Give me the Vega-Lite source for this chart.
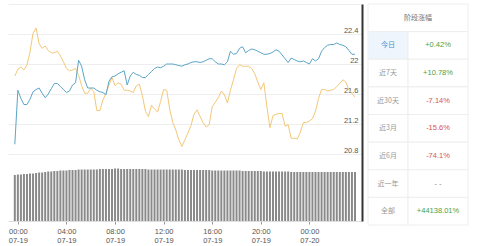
{
  "$schema": "https://vega.github.io/schema/vega-lite/v6.json",
  "padding": {"left": 8, "top": 3, "right": 0, "bottom": 0},
  "background": "white",
  "config": {"view": {"stroke": null}, "font": "Liberation Sans"},
  "spacing": 5,
  "hconcat": [
    {
      "width": 354,
      "height": 217,
      "data": {"values": [
        {"t":"2024-07-18T23:45","b":20.93,"o":21.84,"v":46},
        {"t":"2024-07-19T00:00","b":21.65,"o":21.93,"v":46.5},
        {"t":"2024-07-19T00:15","b":21.54,"o":21.96,"v":46.5},
        {"t":"2024-07-19T00:30","b":21.46,"o":21.92,"v":47},
        {"t":"2024-07-19T00:45","b":21.46,"o":21.99,"v":47},
        {"t":"2024-07-19T01:00","b":21.53,"o":22.16,"v":47.5},
        {"t":"2024-07-19T01:15","b":21.63,"o":22.41,"v":47.5},
        {"t":"2024-07-19T01:30","b":21.66,"o":22.48,"v":48},
        {"t":"2024-07-19T01:45","b":21.68,"o":22.27,"v":48.5},
        {"t":"2024-07-19T02:00","b":21.61,"o":22.21,"v":48.5},
        {"t":"2024-07-19T02:15","b":21.55,"o":22.24,"v":49},
        {"t":"2024-07-19T02:30","b":21.60,"o":22.18,"v":49.5},
        {"t":"2024-07-19T02:45","b":21.67,"o":22.15,"v":49.5},
        {"t":"2024-07-19T03:00","b":21.74,"o":22.15,"v":50},
        {"t":"2024-07-19T03:15","b":21.74,"o":22.17,"v":50},
        {"t":"2024-07-19T03:30","b":21.70,"o":22.11,"v":50.5},
        {"t":"2024-07-19T03:45","b":21.66,"o":22.03,"v":50.5},
        {"t":"2024-07-19T04:00","b":21.62,"o":21.94,"v":50.5},
        {"t":"2024-07-19T04:15","b":21.64,"o":21.91,"v":51},
        {"t":"2024-07-19T04:30","b":21.72,"o":21.92,"v":51},
        {"t":"2024-07-19T04:45","b":21.75,"o":21.94,"v":51},
        {"t":"2024-07-19T05:00","b":22.05,"o":21.85,"v":51.5},
        {"t":"2024-07-19T05:15","b":21.97,"o":21.71,"v":51.5},
        {"t":"2024-07-19T05:30","b":21.79,"o":21.61,"v":51.5},
        {"t":"2024-07-19T05:45","b":21.68,"o":21.61,"v":51.5},
        {"t":"2024-07-19T06:00","b":21.68,"o":21.68,"v":51.5},
        {"t":"2024-07-19T06:15","b":21.68,"o":21.63,"v":51.5},
        {"t":"2024-07-19T06:30","b":21.65,"o":21.38,"v":51.5},
        {"t":"2024-07-19T06:45","b":21.63,"o":21.38,"v":52},
        {"t":"2024-07-19T07:00","b":21.62,"o":21.52,"v":52},
        {"t":"2024-07-19T07:15","b":21.59,"o":21.61,"v":52},
        {"t":"2024-07-19T07:30","b":21.77,"o":21.72,"v":52},
        {"t":"2024-07-19T07:45","b":21.83,"o":21.82,"v":52},
        {"t":"2024-07-19T08:00","b":21.84,"o":21.71,"v":52.5},
        {"t":"2024-07-19T08:15","b":21.87,"o":21.75,"v":52.5},
        {"t":"2024-07-19T08:30","b":21.89,"o":21.73,"v":52},
        {"t":"2024-07-19T08:45","b":21.91,"o":21.65,"v":52},
        {"t":"2024-07-19T09:00","b":21.72,"o":21.65,"v":52},
        {"t":"2024-07-19T09:15","b":21.84,"o":21.64,"v":52},
        {"t":"2024-07-19T09:30","b":21.89,"o":21.62,"v":52},
        {"t":"2024-07-19T09:45","b":21.86,"o":21.71,"v":52},
        {"t":"2024-07-19T10:00","b":21.85,"o":21.73,"v":52},
        {"t":"2024-07-19T10:15","b":21.82,"o":21.58,"v":52},
        {"t":"2024-07-19T10:30","b":21.82,"o":21.37,"v":52},
        {"t":"2024-07-19T10:45","b":21.86,"o":21.30,"v":51.5},
        {"t":"2024-07-19T11:00","b":21.90,"o":21.45,"v":51.5},
        {"t":"2024-07-19T11:15","b":21.94,"o":21.40,"v":51.5},
        {"t":"2024-07-19T11:30","b":21.96,"o":21.36,"v":51.5},
        {"t":"2024-07-19T11:45","b":21.95,"o":21.50,"v":51.5},
        {"t":"2024-07-19T12:00","b":21.97,"o":21.66,"v":51.5},
        {"t":"2024-07-19T12:15","b":22.00,"o":21.65,"v":51.5},
        {"t":"2024-07-19T12:30","b":22.00,"o":21.40,"v":51.5},
        {"t":"2024-07-19T12:45","b":22.00,"o":21.22,"v":51.5},
        {"t":"2024-07-19T13:00","b":21.99,"o":21.12,"v":51.5},
        {"t":"2024-07-19T13:15","b":21.98,"o":20.99,"v":51.5},
        {"t":"2024-07-19T13:30","b":21.97,"o":20.90,"v":51.5},
        {"t":"2024-07-19T13:45","b":21.99,"o":20.99,"v":51},
        {"t":"2024-07-19T14:00","b":22.00,"o":21.08,"v":51},
        {"t":"2024-07-19T14:15","b":22.02,"o":21.18,"v":51},
        {"t":"2024-07-19T14:30","b":22.03,"o":21.33,"v":51},
        {"t":"2024-07-19T14:45","b":22.03,"o":21.39,"v":51},
        {"t":"2024-07-19T15:00","b":22.02,"o":21.30,"v":51},
        {"t":"2024-07-19T15:15","b":22.03,"o":21.22,"v":51},
        {"t":"2024-07-19T15:30","b":22.05,"o":21.16,"v":51},
        {"t":"2024-07-19T15:45","b":22.07,"o":21.19,"v":51},
        {"t":"2024-07-19T16:00","b":22.07,"o":21.43,"v":50.5},
        {"t":"2024-07-19T16:15","b":22.03,"o":21.49,"v":50.5},
        {"t":"2024-07-19T16:30","b":22.00,"o":21.55,"v":50.5},
        {"t":"2024-07-19T16:45","b":22.00,"o":21.64,"v":50.5},
        {"t":"2024-07-19T17:00","b":21.99,"o":21.59,"v":50.5},
        {"t":"2024-07-19T17:15","b":22.03,"o":21.48,"v":50.5},
        {"t":"2024-07-19T17:30","b":22.17,"o":21.65,"v":50.5},
        {"t":"2024-07-19T17:45","b":22.13,"o":21.79,"v":50.5},
        {"t":"2024-07-19T18:00","b":22.14,"o":21.94,"v":50.5},
        {"t":"2024-07-19T18:15","b":22.21,"o":21.99,"v":50.5},
        {"t":"2024-07-19T18:30","b":22.23,"o":21.97,"v":50},
        {"t":"2024-07-19T18:45","b":22.15,"o":21.97,"v":50},
        {"t":"2024-07-19T19:00","b":22.18,"o":21.97,"v":50},
        {"t":"2024-07-19T19:15","b":22.20,"o":21.94,"v":50},
        {"t":"2024-07-19T19:30","b":22.19,"o":21.87,"v":50},
        {"t":"2024-07-19T19:45","b":22.17,"o":21.76,"v":50},
        {"t":"2024-07-19T20:00","b":22.15,"o":21.66,"v":50},
        {"t":"2024-07-19T20:15","b":22.13,"o":21.75,"v":49.5},
        {"t":"2024-07-19T20:30","b":22.13,"o":21.43,"v":49.5},
        {"t":"2024-07-19T20:45","b":22.14,"o":21.15,"v":49.5},
        {"t":"2024-07-19T21:00","b":22.16,"o":21.31,"v":49.5},
        {"t":"2024-07-19T21:15","b":22.19,"o":21.33,"v":49.5},
        {"t":"2024-07-19T21:30","b":22.17,"o":21.34,"v":49.5},
        {"t":"2024-07-19T21:45","b":22.12,"o":21.34,"v":49.5},
        {"t":"2024-07-19T22:00","b":22.07,"o":21.17,"v":49.5},
        {"t":"2024-07-19T22:15","b":22.02,"o":21.19,"v":49.5},
        {"t":"2024-07-19T22:30","b":22.08,"o":21.01,"v":49},
        {"t":"2024-07-19T22:45","b":22.06,"o":21.01,"v":49},
        {"t":"2024-07-19T23:00","b":22.04,"o":21.00,"v":49},
        {"t":"2024-07-19T23:15","b":22.03,"o":21.09,"v":49},
        {"t":"2024-07-19T23:30","b":22.04,"o":21.22,"v":49},
        {"t":"2024-07-19T23:45","b":22.02,"o":21.22,"v":49},
        {"t":"2024-07-20T00:00","b":22.00,"o":21.24,"v":49},
        {"t":"2024-07-20T00:15","b":22.07,"o":21.27,"v":49},
        {"t":"2024-07-20T00:30","b":22.04,"o":21.37,"v":49},
        {"t":"2024-07-20T00:45","b":22.07,"o":21.54,"v":49},
        {"t":"2024-07-20T01:00","b":22.17,"o":21.66,"v":49},
        {"t":"2024-07-20T01:15","b":22.22,"o":21.66,"v":49},
        {"t":"2024-07-20T01:30","b":22.25,"o":21.64,"v":49},
        {"t":"2024-07-20T01:45","b":22.26,"o":21.65,"v":49},
        {"t":"2024-07-20T02:00","b":22.26,"o":21.66,"v":49},
        {"t":"2024-07-20T02:15","b":22.28,"o":21.70,"v":49},
        {"t":"2024-07-20T02:30","b":22.26,"o":21.74,"v":49},
        {"t":"2024-07-20T02:45","b":22.25,"o":21.79,"v":49},
        {"t":"2024-07-20T03:00","b":22.23,"o":21.76,"v":49},
        {"t":"2024-07-20T03:15","b":22.18,"o":21.65,"v":49},
        {"t":"2024-07-20T03:30","b":22.13,"o":21.61,"v":49},
        {"t":"2024-07-20T03:45","b":22.13,"o":21.56,"v":49}
      ]},
      "resolve": {"scale": {"y": "independent"}},
      "layer": [
        {
          "mark": {"type": "bar", "color": "#8a8a8a", "size": 2},
          "encoding": {
            "x": {
              "field": "t", "type": "temporal",
              "scale": {"domain": [
                {"year": 2024, "month": 7, "date": 18, "hours": 23, "minutes": 36},
                {"year": 2024, "month": 7, "date": 20, "hours": 3, "minutes": 55}
              ]},
              "axis": {
                "title": null,
                "grid": false,
                "values": [
                  {"year": 2024, "month": 7, "date": 19, "hours": 0},
                  {"year": 2024, "month": 7, "date": 19, "hours": 4},
                  {"year": 2024, "month": 7, "date": 19, "hours": 8},
                  {"year": 2024, "month": 7, "date": 19, "hours": 12},
                  {"year": 2024, "month": 7, "date": 19, "hours": 16},
                  {"year": 2024, "month": 7, "date": 19, "hours": 20},
                  {"year": 2024, "month": 7, "date": 20, "hours": 0}
                ],
                "labelExpr": "[timeFormat(datum.value, '%H:%M'), timeFormat(datum.value, '%m-%d')]",
                "labelOverlap": false,
                "labelFontSize": 7.5,
                "labelColor": "#555555",
                "labelLineHeight": 9,
                "labelPadding": 3,
                "tickSize": 3,
                "tickColor": "#999999",
                "domainColor": "#dddddd"
              }
            },
            "y": {
              "field": "v", "type": "quantitative",
              "scale": {"domain": [0, 217]},
              "axis": null
            }
          }
        },
        {
          "layer": [
            {
              "mark": {"type": "line", "color": "#f3c878", "strokeWidth": 1},
              "encoding": {
                "x": {"field": "t", "type": "temporal"},
                "y": {
                  "field": "o", "type": "quantitative",
                  "scale": {"domain": [19.9067, 22.8], "nice": false, "zero": false},
                  "axis": {
                    "orient": "right",
                    "title": null,
                    "values": [20.8, 21.2, 21.6, 22, 22.4, 22.8],
                    "labelExpr": "datum.value > 22.6 ? '' : format(datum.value, '~g')",
                    "grid": true,
                    "gridColor": "#eeeeee",
                    "ticks": false,
                    "tickSize": 0,
                    "domain": true,
                    "domainColor": "#333333",
                    "domainWidth": 2,
                    "labelAlign": "right",
                    "labelBaseline": "bottom",
                    "labelPadding": -4,
                    "labelFontSize": 7.5,
                    "labelColor": "#555555"
                  }
                }
              }
            },
            {
              "mark": {"type": "line", "color": "#5aa5c8", "strokeWidth": 1},
              "encoding": {
                "x": {"field": "t", "type": "temporal"},
                "y": {"field": "b", "type": "quantitative"}
              }
            }
          ]
        }
      ]
    },
    {
      "width": 100,
      "height": 221,
      "data": {"values": [
        {"k": "阶段涨幅", "v": "", "s": "head"},
        {"k": "今日", "v": "+0.42%", "s": "up"},
        {"k": "近7天", "v": "+10.78%", "s": "up"},
        {"k": "近30天", "v": "-7.14%", "s": "down"},
        {"k": "近3月", "v": "-15.6%", "s": "down"},
        {"k": "近6月", "v": "-74.1%", "s": "down"},
        {"k": "近一年", "v": "- -", "s": "none"},
        {"k": "全部", "v": "+44138.01%", "s": "up"}
      ]},
      "encoding": {
        "y": {
          "field": "k", "type": "nominal",
          "scale": {
            "domain": ["阶段涨幅", "今日", "近7天", "近30天", "近3月", "近6月", "近一年", "全部"],
            "paddingInner": 0, "paddingOuter": 0
          },
          "axis": null
        }
      },
      "layer": [
        {
          "transform": [{"filter": "datum.s == 'head'"}],
          "mark": {"type": "rect", "fill": "white", "stroke": "#eeeeee", "strokeWidth": 1},
          "encoding": {
            "x": {"datum": 0, "type": "quantitative", "scale": {"domain": [0, 100]}, "axis": null},
            "x2": {"datum": 100}
          }
        },
        {
          "transform": [{"filter": "datum.s != 'head'"}],
          "mark": {"type": "rect", "stroke": "#eeeeee", "strokeWidth": 1},
          "encoding": {
            "x": {"datum": 0, "type": "quantitative"},
            "x2": {"datum": 40},
            "fill": {"condition": {"test": "datum.k == '今日'", "value": "#eef5fc"}, "value": "white"}
          }
        },
        {
          "transform": [{"filter": "datum.s != 'head'"}],
          "mark": {"type": "rect", "fill": "white", "stroke": "#eeeeee", "strokeWidth": 1},
          "encoding": {
            "x": {"datum": 40, "type": "quantitative"},
            "x2": {"datum": 100}
          }
        },
        {
          "transform": [{"filter": "datum.s == 'head'"}],
          "mark": {"type": "text", "font": "Noto Sans CJK SC", "fontSize": 7, "color": "#777777"},
          "encoding": {
            "x": {"datum": 50, "type": "quantitative"},
            "text": {"field": "k"}
          }
        },
        {
          "transform": [{"filter": "datum.s != 'head'"}],
          "mark": {"type": "text", "font": "Noto Sans CJK SC", "fontSize": 7},
          "encoding": {
            "x": {"datum": 20, "type": "quantitative"},
            "text": {"field": "k"},
            "color": {"condition": {"test": "datum.k == '今日'", "value": "#4a90cf"}, "value": "#999999"}
          }
        },
        {
          "transform": [{"filter": "datum.s != 'head'"}],
          "mark": {"type": "text", "fontSize": 7.5},
          "encoding": {
            "x": {"datum": 70, "type": "quantitative"},
            "text": {"field": "v"},
            "color": {
              "field": "s", "type": "nominal",
              "scale": {"domain": ["up", "down", "none"], "range": ["#3fa34d", "#d9534f", "#888888"]},
              "legend": null
            }
          }
        }
      ]
    }
  ]
}
